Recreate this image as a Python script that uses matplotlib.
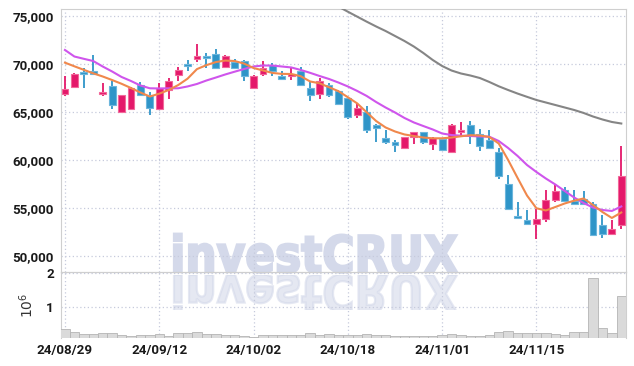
import numpy as np
import matplotlib
matplotlib.use('Agg')
import matplotlib.pyplot as plt
from matplotlib.ticker import FuncFormatter
from matplotlib.textpath import TextPath
from matplotlib.patches import PathPatch
from matplotlib.font_manager import FontProperties
import matplotlib.transforms as mtransforms

plt.rcParams['font.family'] = ['Roboto', 'DejaVu Sans']

# daily OHLC (KRW), 60 trading days from 24/08/29
opens = [66900, 67600, 69200, 69300, 66900, 67700, 65000, 65300, 67800, 66800,
         65300, 67300, 68900, 70000, 70500, 70800, 71000, 69700, 70200, 70300,
         67500, 69000, 69900, 68700, 68800, 69300, 67500, 66900, 67800, 67200,
         66500, 64700, 65000, 63600, 62300, 61900, 61300, 62400, 62900, 61700,
         62200, 60800, 62900, 63600, 62700, 62100, 60800, 57500, 54200, 53700,
         53300, 53800, 55800, 56900, 55700, 55900, 55400, 53200, 52300, 53200]
highs = [68700, 69100, 69600, 70900, 68000, 68200, 66800, 67600, 68100, 67100,
         68000, 68500, 69700, 70400, 72100, 71100, 71600, 70900, 70500, 70400,
         68900, 70300, 70100, 69300, 69700, 69700, 68200, 68500, 68000, 67300,
         66600, 65900, 65600, 63800, 63100, 62100, 62400, 62900, 62900, 62400,
         62300, 63700, 64000, 64100, 63200, 63100, 61300, 58400, 55600, 54800,
         54900, 56900, 57400, 57200, 56900, 56800, 55600, 54300, 53700, 61500]
lows = [66700, 67500, 67500, 68900, 66700, 65300, 65000, 65200, 66700, 64700,
        65200, 66400, 68200, 69300, 70200, 69600, 69500, 69700, 69600, 68200,
        67400, 68700, 68700, 68400, 68300, 67700, 66100, 66400, 66600, 65700,
        64300, 64400, 62800, 61900, 61700, 60800, 61200, 61700, 61700, 61000,
        60900, 60800, 62600, 61700, 60900, 61200, 58000, 54800, 53900, 53200,
        51800, 53500, 55600, 55600, 55300, 55300, 52100, 51900, 52200, 52800]
closes = [67400, 69000, 69000, 69000, 67100, 65700, 66800, 67500, 66800, 65400,
          67500, 68200, 69400, 69800, 70800, 70600, 69600, 70800, 69600, 68700,
          68700, 69600, 69300, 68400, 69000, 67800, 66800, 68200, 66800, 65800,
          64500, 65400, 63100, 63300, 61900, 61600, 62400, 62900, 61900, 62300,
          61000, 63600, 63100, 62600, 61500, 61300, 58300, 54900, 54000, 53300,
          53800, 55800, 56800, 55700, 55400, 55400, 52200, 52300, 52800, 58300]
volumes = [0.33, 0.24, 0.18, 0.18, 0.21, 0.21, 0.15, 0.12, 0.14, 0.14,
           0.18, 0.12, 0.21, 0.21, 0.24, 0.17, 0.18, 0.16, 0.16, 0.13,
           0.10, 0.14, 0.14, 0.14, 0.16, 0.14, 0.20, 0.16, 0.18, 0.14,
           0.16, 0.14, 0.17, 0.14, 0.14, 0.11, 0.11, 0.11, 0.12, 0.12,
           0.14, 0.17, 0.14, 0.13, 0.13, 0.15, 0.23, 0.27, 0.20, 0.20,
           0.20, 0.20, 0.18, 0.15, 0.25, 0.25, 1.85, 0.35, 0.22, 1.32]
volumes = [v * 1e6 for v in volumes]

# moving averages
ma_short = [70140, 69760, 69390, 69030, 68700, 68330, 67940, 67500, 67030, 66610,
            66910, 67290, 67800, 68470, 69470, 69880, 70200, 70360, 70310, 70040,
            69580, 69330, 69070, 68970, 68960, 68730, 68180, 67990, 67580, 67170,
            66540, 65890, 64970, 64060, 63390, 62970, 62660, 62500, 62340, 62260,
            62260, 62340, 62470, 62580, 62550, 62400, 61720, 60000, 58130, 56300,
            54970, 54740, 55100, 55470, 55760, 55990, 55310, 54580, 53960, 54530]
ma_mid = [71460, 70780, 70540, 70310, 69740, 69220, 68650, 68230, 67760, 67470,
          67450, 67470, 67470, 67660, 67920, 68280, 68590, 68910, 69200, 69480,
          69740, 69840, 69840, 69740, 69640, 69380, 69080, 68750, 68440, 68070,
          67660, 67190, 66670, 66040, 65470, 64950, 64380, 63910, 63540, 63180,
          62760, 62600, 62530, 62500, 62450, 62430, 61980, 61250, 60420, 59480,
          58750, 58070, 57450, 56770, 56090, 55520, 55050, 54790, 54690, 55160]
ma_long = [np.nan] * 28 + [
          76510, 75980, 75450, 74930, 74410, 73910, 73440, 72920, 72400, 71820,
          71150, 70420, 69790, 69320, 69010, 68800, 68540, 68130, 67680, 67290,
          66920, 66580, 66250, 65990, 65730, 65470, 65210, 64900, 64530, 64220,
          63960, 63800]

tick_pos = [0, 10, 20, 30, 40, 50]
tick_labels = ['24/08/29', '24/09/12', '24/10/02', '24/10/18', '24/11/01', '24/11/15']

up_col, up_edge = '#e4186a', '#f2689a'
dn_col, dn_edge = '#2f95c8', '#6cb6dc'
grid_col = '#c6cadc'
spine_col = '#cfcfcf'

fig = plt.figure(figsize=(6.34, 3.66), dpi=100)
fig.patch.set_facecolor('white')

# watermark with reflection, drawn behind the (transparent) axes
wm_fp = FontProperties(family='DejaVu Sans', weight='bold')
tp = TextPath((0, 0), 'investCRUX', size=100, prop=wm_fp)
ext = tp.get_extents()
sx = 283.0 / ext.width
sy = 39.0 / ext.height
wm = PathPatch(tp, transform=mtransforms.Affine2D().translate(-ext.x0, 0).scale(sx, sy).translate(174, 94),
               facecolor='#d4d9ea', edgecolor='#d4d9ea', linewidth=1.6, zorder=-2)
fig.patches.append(wm)
wm_r = PathPatch(tp, transform=mtransforms.Affine2D().translate(-ext.x0, 0).scale(sx, -sy).translate(174, 91),
                 facecolor='#d4d9ea', edgecolor='#d4d9ea', linewidth=1.6, alpha=0.6, zorder=-2)
fig.patches.append(wm_r)
clip = plt.Rectangle((0, 56), 634, 35, transform=None)
wm_r.set_clip_path(clip)

ax = fig.add_axes([61 / 634, 1 - 272 / 366, 565 / 634, 263 / 366])
ax2 = fig.add_axes([61 / 634, 1 - 338 / 366, 565 / 634, 66 / 366], sharex=ax)
for a in (ax, ax2):
    a.set_facecolor('none')

x = np.arange(len(opens))
o = np.array(opens); c = np.array(closes)
up = c >= o
colors = np.where(up, up_col, dn_col)
edges = np.where(up, up_edge, dn_edge)

ax.vlines(x, lows, highs, colors=colors, linewidth=1.3, zorder=3)
bottoms = np.minimum(o, c)
heights = np.maximum(np.abs(c - o), 60)
ax.bar(x, heights, bottom=bottoms, width=0.72, color=colors, edgecolor=edges,
       linewidth=0.8, zorder=4)

ax.plot(x, ma_long, color='#858585', linewidth=1.5, zorder=5)
ax.plot(x, ma_mid, color='#cf55ec', linewidth=1.5, zorder=5)
ax.plot(x, ma_short, color='#f0884c', linewidth=1.5, zorder=6)

ax.set_xlim(-0.42, 59.5)
ax.set_ylim(48330, 75730)
ax.set_yticks([50000, 55000, 60000, 65000, 70000, 75000])
ax.yaxis.set_major_formatter(FuncFormatter(lambda v, p: f'{int(v):,}'))

ax2.bar(x, volumes, width=1.0, color='#dadada', edgecolor='#b5b5b5', linewidth=0.6, zorder=3)
ax2.set_ylim(0.06e6, 2.04e6)
ax2.set_yticks([1e6, 2e6])
ax2.yaxis.set_major_formatter(FuncFormatter(lambda v, p: f'{v / 1e6:g}'))
ax2.set_ylabel(r'$10^6$', fontsize=10, color='#333333')
ax2.yaxis.set_label_coords(-0.045, 0.5)
ax2.set_xticks(tick_pos)
ax2.set_xticklabels(tick_labels)

for a in (ax, ax2):
    a.grid(True, linestyle=(0, (1, 2)), color=grid_col, linewidth=0.9)
    a.set_axisbelow(True)
    a.tick_params(length=0, labelsize=9.6, labelcolor='#1a1a1a', pad=5)
    for lbl in a.get_xticklabels() + a.get_yticklabels():
        lbl.set_fontweight('bold')
    for s in a.spines.values():
        s.set_color(spine_col)
ax.tick_params(labelbottom=False)
ax2.spines['bottom'].set_visible(False)
ax2.tick_params(axis='x', pad=4)

fig.savefig('out.png', dpi=100)
